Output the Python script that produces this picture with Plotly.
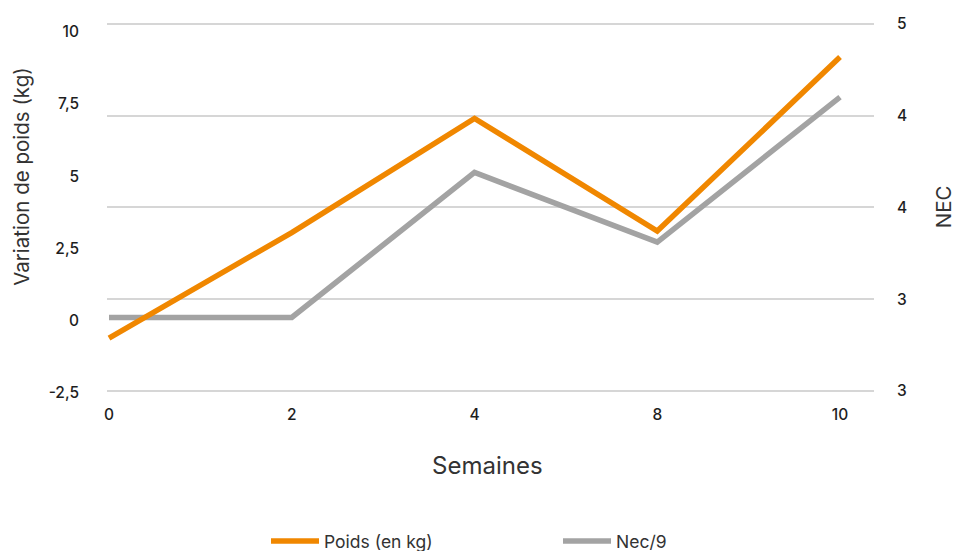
import plotly.graph_objects as go

# Weeks of follow-up (category axis)
semaines = ["0", "2", "4", "8", "10"]

# Weight change in kg (left axis)
poids_kg = [-0.60, 3.05, 7.00, 3.10, 9.12]

# Body condition score (right axis)
nec = [3.40, 3.40, 4.19, 3.81, 4.60]

# Left-axis ticks and labels
poids_ticks = [-2.5, 0, 2.5, 5, 7.5, 10]
poids_tick_labels = ["-2,5", "0", "2,5", "5", "7,5", "10"]

# Right-axis tick positions and their printed labels
nec_ticks = [3, 3.5, 4, 4.5, 5]
nec_tick_labels = ["3", "3", "4", "4", "5"]

ORANGE = "#F08700"
GREY = "#A3A3A3"
FAMILY = "Inter, Roboto, sans-serif"
TICK_FONT = dict(family=FAMILY, size=15.5, color="#1E1E1E", weight=500)
TITLE_FONT = dict(family=FAMILY, size=20.5, color="#333333")

fig = go.Figure()

fig.add_trace(go.Scatter(
    x=semaines, y=poids_kg, name="Poids (en kg)", yaxis="y2",
    mode="lines", line=dict(color=ORANGE, width=5.5),
))
fig.add_trace(go.Scatter(
    x=semaines, y=nec, name="Nec/9", yaxis="y",
    mode="lines", line=dict(color=GREY, width=5.5),
))

fig.update_layout(
    width=957, height=551,
    margin=dict(l=107, r=83, t=15, b=151, autoexpand=False),
    paper_bgcolor="white", plot_bgcolor="white",
    showlegend=True,
    legend=dict(
        orientation="h",
        xref="container", x=266 / 957, xanchor="left",
        yref="container", y=10 / 551, yanchor="middle",
        font=dict(family=FAMILY, size=17.5, color="#333333"),
        itemwidth=48, entrywidth=229,
    ),
    xaxis=dict(
        type="category", range=[-0.011, 4.186],
        showgrid=False, zeroline=False, showline=False, ticks="",
        tickfont=TICK_FONT, ticklabelstandoff=3,
    ),
    yaxis=dict(
        side="right", range=[2.950, 5.048],
        tickvals=nec_ticks, ticktext=nec_tick_labels,
        showgrid=True, gridcolor="#D6D6D6", gridwidth=1.5,
        zeroline=False, showline=False, ticks="",
        tickfont=TICK_FONT, ticklabelstandoff=22,
    ),
    yaxis2=dict(
        side="left", overlaying="y", range=[-2.745, 10.577],
        tickvals=poids_ticks, ticktext=poids_tick_labels,
        showgrid=False, zeroline=False, showline=False, ticks="",
        tickfont=TICK_FONT, ticklabelstandoff=27,
    ),
    annotations=[
        dict(text="Variation de poids (kg)", xref="paper", yref="paper",
             x=-0.111, y=0.582, xanchor="center", yanchor="middle",
             textangle=-90, showarrow=False, font=TITLE_FONT),
        dict(text="NEC", xref="paper", yref="paper",
             x=1.09, y=0.501, xanchor="center", yanchor="middle",
             textangle=-90, showarrow=False, font=TITLE_FONT),
        dict(text="Semaines", xref="paper", yref="paper",
             x=0.496, y=-0.169, xanchor="center", yanchor="middle",
             showarrow=False, font=dict(family=FAMILY, size=24, color="#333333")),
    ],
)

fig.write_html("out.html")
